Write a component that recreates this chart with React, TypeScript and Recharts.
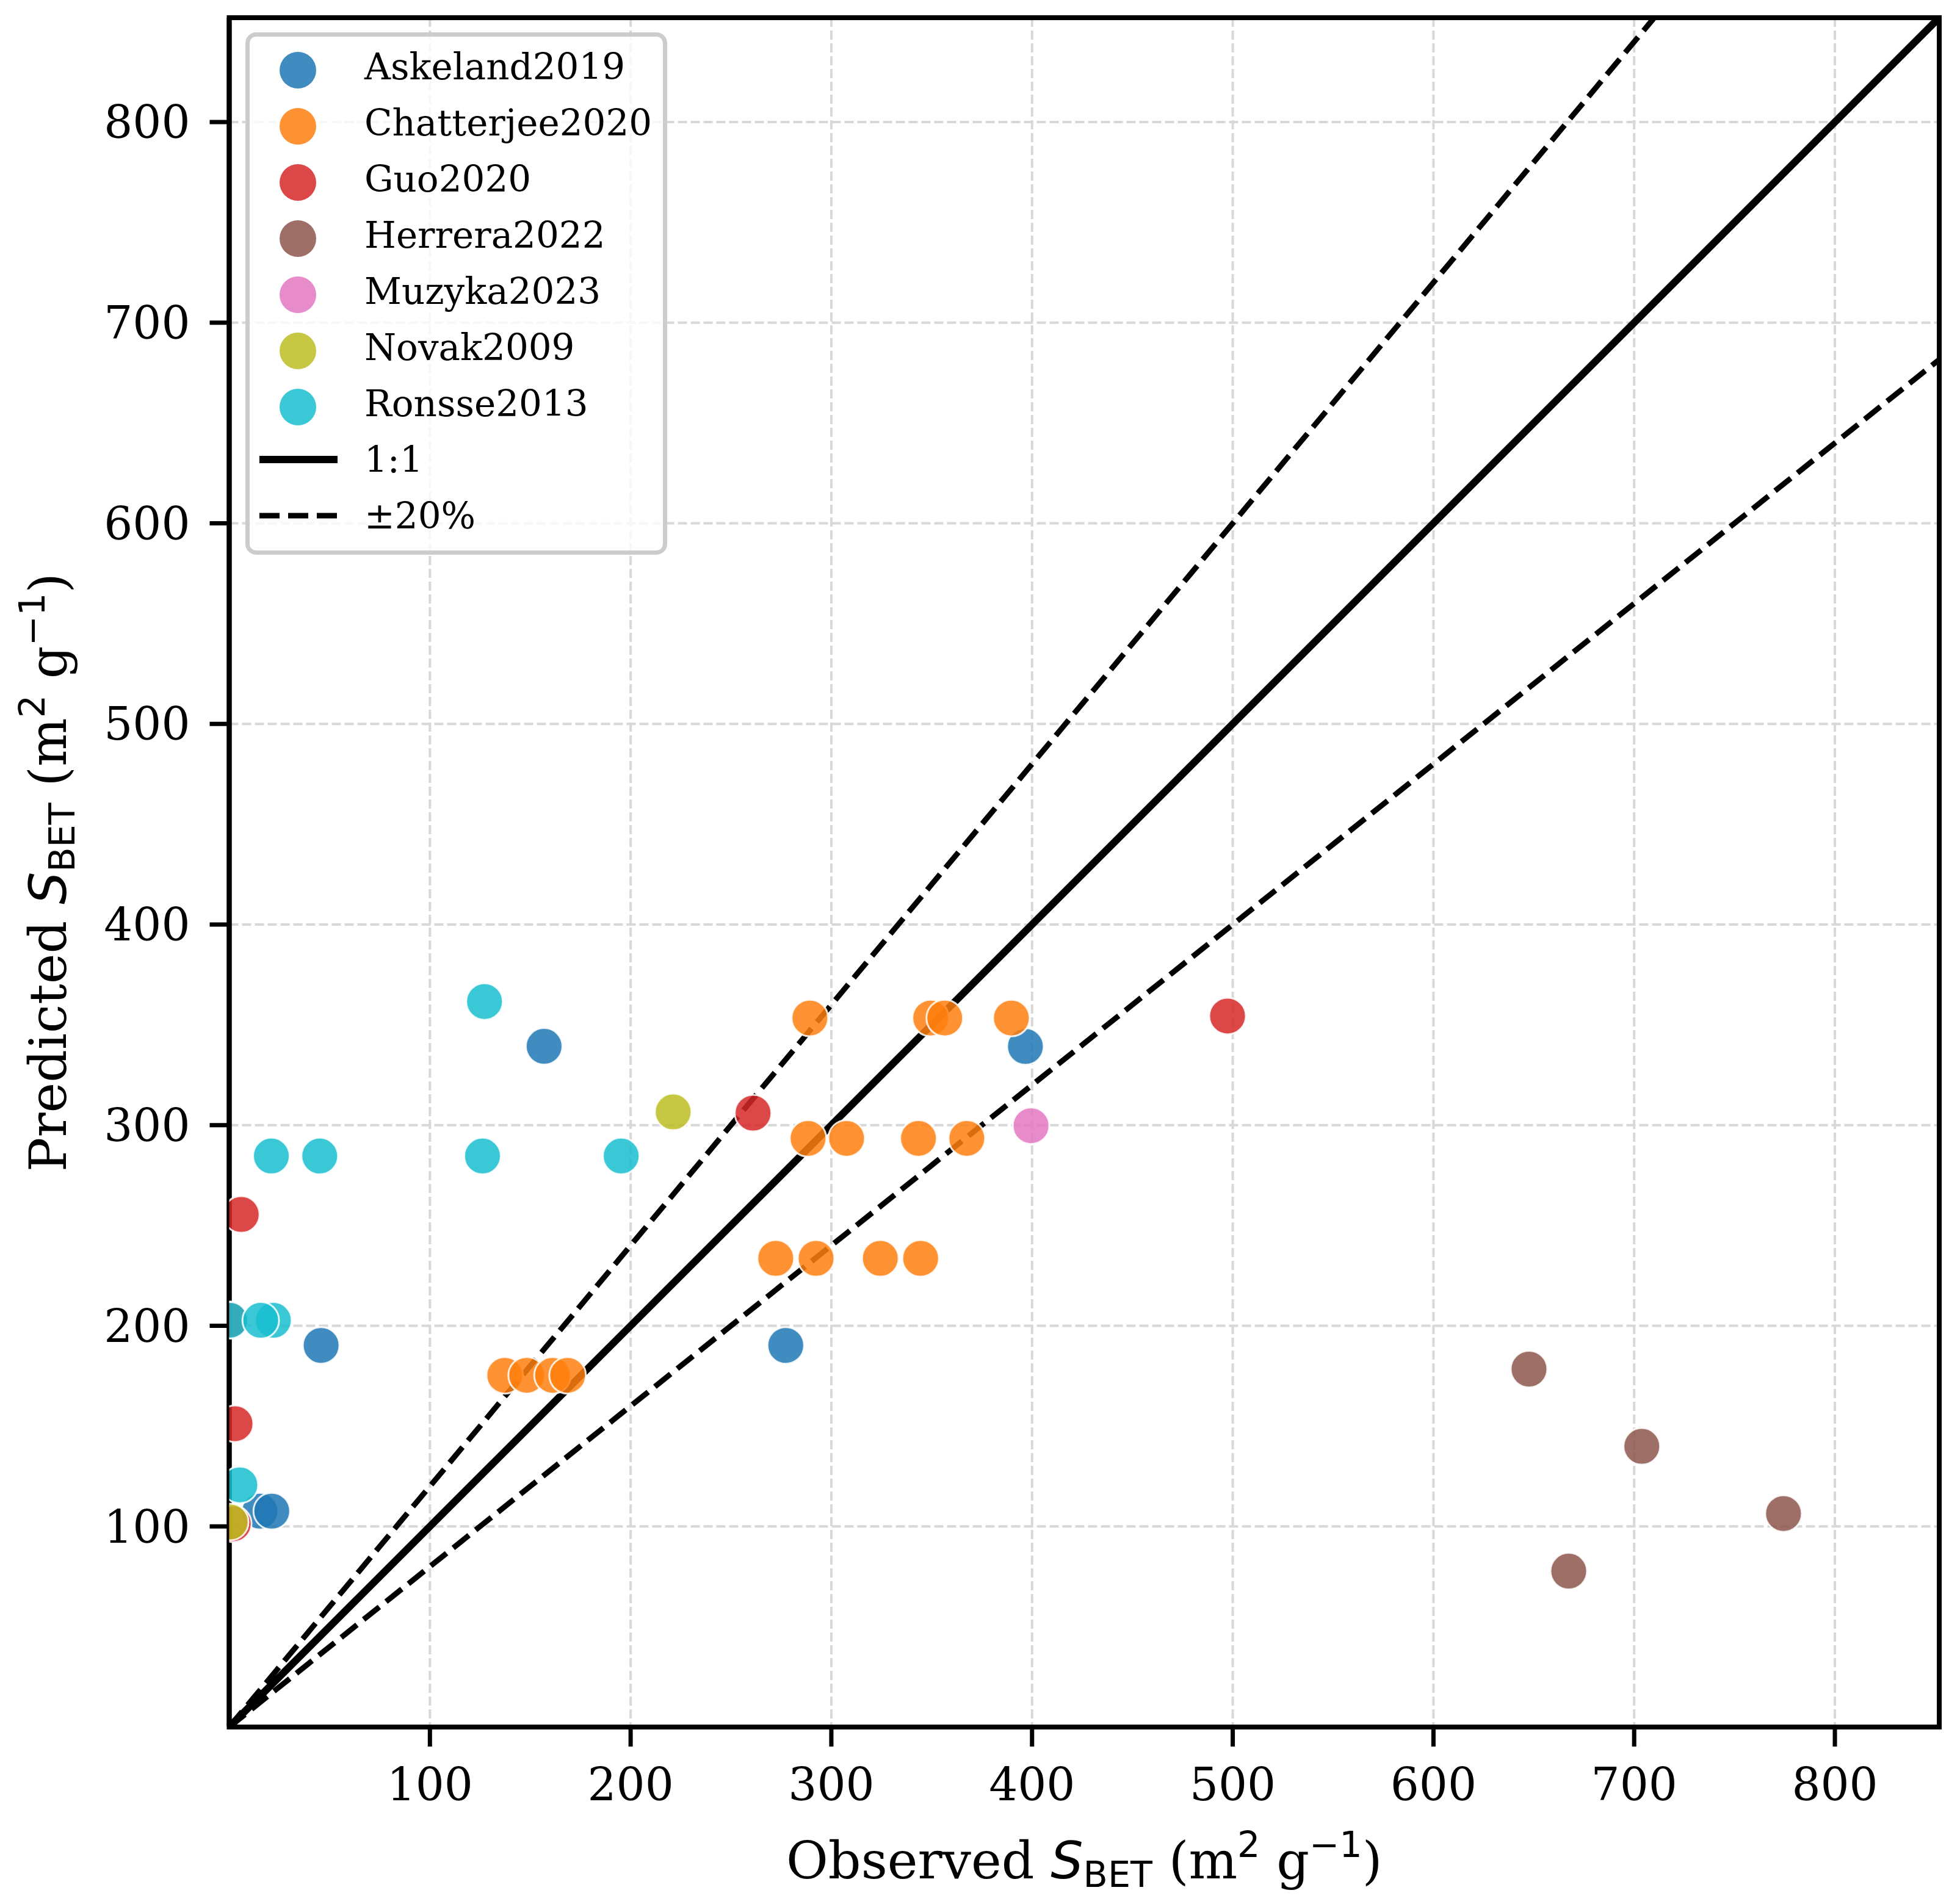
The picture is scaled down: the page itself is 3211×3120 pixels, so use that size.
import React from 'react';
import {
  ScatterChart,
  Scatter,
  XAxis,
  YAxis,
  CartesianGrid,
  ReferenceLine,
  ReferenceArea,
  Legend,
} from 'recharts';

// observed / predicted S_BET pairs
const askeland2019 = [[156.9, 339.3], [45.8, 190.2], [277.3, 190.2], [396.7, 339.2], [15.3, 107.6], [21.2, 107.6]];
const chatterjee2020 = [
  [289.3, 353.4], [349.5, 353.4], [356.5, 353.4], [389.7, 353.4],
  [288.4, 293.4], [307.6, 293.4], [343.4, 293.4], [367.5, 293.4],
  [272.3, 233.6], [292.4, 233.6], [324.4, 233.6], [344.5, 233.6],
  [137.3, 175.3], [148.2, 175.3], [161.1, 175.3], [168.6, 175.3],
];
const guo2020 = [[261, 306], [497.4, 354.4], [6, 255.5], [2.9, 151.2], [2, 101.3], [0.5, 203]];
const herrera2022 = [[647.6, 178.4], [703.8, 139.9], [774.4, 106.4], [667.4, 77.7]];
const muzyka2023 = [[399.5, 299.7]];
const novak2009 = [[221.2, 306.6], [0.5, 102.2]];
const ronsse2013 = [
  [127.2, 361.6], [21, 284.6], [45.1, 284.6], [126.2, 284.6], [195.3, 284.6],
  [0.3, 202.7], [22, 202.7], [15.7, 202.7], [5.3, 120.7],
];

const SERIES_NAMES = ['Askeland2019', 'Chatterjee2020', 'Guo2020', 'Herrera2022', 'Muzyka2023', 'Novak2009', 'Ronsse2013'];
const SERIES_DATA = [askeland2019, chatterjee2020, guo2020, herrera2022, muzyka2023, novak2009, ronsse2013];
const SERIES_COLORS = ['#1f77b4', '#ff7f0e', '#d62728', '#8c564b', '#e377c2', '#bcbd22', '#17becf'];

const TICKS = [100, 200, 300, 400, 500, 600, 700, 800];
const AXIS_MAX = 852;
const BAND = 0.2;

const SERIF = 'DejaVu Serif';
const SANS = 'DejaVu Sans';
const R = 30;

const toPoints = (pairs: number[][]) => pairs.map(([x, y]) => ({ x, y }));

const dot = (color: string) => (props: any) => (
  <circle
    cx={props.cx}
    cy={props.cy}
    r={R}
    fill={color}
    fillOpacity={0.85}
    stroke="#ffffff"
    strokeOpacity={0.85}
    strokeWidth={3}
  />
);

// S_BET (m^2 g^-1) in the matplotlib mathtext look
const unitSpans = (fs: number) => {
  const small = fs * 0.7;
  return [
    <tspan key="s" fontFamily={SANS} fontStyle="italic">S</tspan>,
    <tspan key="b" fontFamily={SANS} fontSize={small} dy={14}>BET</tspan>,
    <tspan key="p" dy={-14}> (m</tspan>,
    <tspan key="2" fontFamily={SANS} fontSize={small} dy={-35}>2</tspan>,
    <tspan key="g" dy={35}> g</tspan>,
    <tspan key="m" fontFamily={SANS} fontSize={small} dy={-35}>{'\u22121'}</tspan>,
    <tspan key="c" dy={35}>)</tspan>,
  ];
};

const XLabel = (props: any) => {
  const vb = props.viewBox;
  return (
    <text x={vb.x + vb.width / 2} y={vb.y + 248} textAnchor="middle" fontFamily={SERIF} fontSize={84} fill="#000">
      <tspan>Observed </tspan>
      {unitSpans(84)}
    </text>
  );
};

const YLabel = (props: any) => {
  const vb = props.viewBox;
  const cx = vb.x + 108;
  const cy = vb.y + vb.height / 2;
  return (
    <text x={cx} y={cy} transform={`rotate(-90, ${cx}, ${cy})`} textAnchor="middle" fontFamily={SERIF} fontSize={84} fill="#000">
      <tspan>Predicted </tspan>
      {unitSpans(84)}
    </text>
  );
};

const ROW0 = 62;
const ROW_STEP = 92;
const LEGEND_FS = 59.5;

const LegendBox = () => (
  <svg width={691} height={856} style={{ display: 'block' }}>
    <rect x={3.5} y={3.5} width={684} height={849} rx={14} fill="#ffffff" fillOpacity={0.8} stroke="#cccccc" strokeWidth={7} />
    {SERIES_NAMES.map((name, i) => {
      const cy = ROW0 + i * ROW_STEP;
      return (
        <g key={name}>
          <circle cx={86} cy={cy} r={R} fill={SERIES_COLORS[i]} fillOpacity={0.85} />
          <text x={195} y={cy + 15} fontFamily={SERIF} fontSize={LEGEND_FS} fill="#000">{name}</text>
        </g>
      );
    })}
    <line x1={23} x2={151} y1={ROW0 + 7 * ROW_STEP - 6} y2={ROW0 + 7 * ROW_STEP - 6} stroke="#000" strokeWidth={12} />
    <text x={195} y={ROW0 + 7 * ROW_STEP + 15} fontFamily={SERIF} fontSize={LEGEND_FS} fill="#000">1:1</text>
    <line x1={23} x2={151} y1={ROW0 + 8 * ROW_STEP - 6} y2={ROW0 + 8 * ROW_STEP - 6} stroke="#000" strokeWidth={9} strokeDasharray="33 14" />
    <text x={195} y={ROW0 + 8 * ROW_STEP + 15} fontFamily={SERIF} fontSize={LEGEND_FS} fill="#000">±20%</text>
  </svg>
);

const tickStyle = { fill: '#000', fontSize: 74, fontFamily: SERIF };

export default function App() {
  return (
    <div style={{ position: 'absolute', left: 0, top: 0, background: '#fff', fontFamily: SERIF }}>
      <ScatterChart width={3211} height={3120} margin={{ top: 29, right: 34, bottom: 0, left: 0 }}>
        <CartesianGrid stroke="#d8d8d8" strokeWidth={4} strokeDasharray="15 6" />
        <XAxis
          type="number"
          dataKey="x"
          domain={[0, AXIS_MAX]}
          ticks={TICKS}
          allowDataOverflow
          height={290}
          tickSize={32}
          tickMargin={35}
          tick={tickStyle}
          tickLine={{ stroke: '#000', strokeWidth: 7 }}
          axisLine={{ stroke: '#000', strokeWidth: 8 }}
          label={(p: any) => <XLabel {...p} />}
        />
        <YAxis
          type="number"
          dataKey="y"
          domain={[0, AXIS_MAX]}
          ticks={TICKS}
          allowDataOverflow
          width={375.5}
          tickSize={32}
          tickMargin={32}
          tick={tickStyle}
          tickLine={{ stroke: '#000', strokeWidth: 7 }}
          axisLine={{ stroke: '#000', strokeWidth: 8 }}
          label={(p: any) => <YLabel {...p} />}
        />
        {SERIES_NAMES.map((name, i) => (
          <Scatter
            key={name}
            name={name}
            data={toPoints(SERIES_DATA[i])}
            fill={SERIES_COLORS[i]}
            shape={dot(SERIES_COLORS[i])}
            isAnimationActive={false}
          />
        ))}
        <ReferenceLine
          segment={[{ x: 0, y: 0 }, { x: AXIS_MAX, y: AXIS_MAX }]}
          stroke="#000"
          strokeWidth={12}
        />
        <ReferenceLine
          segment={[{ x: 0, y: 0 }, { x: AXIS_MAX / (1 + BAND), y: AXIS_MAX }]}
          stroke="#000"
          strokeWidth={9}
          strokeDasharray="33 14"
        />
        <ReferenceLine
          segment={[{ x: 0, y: 0 }, { x: AXIS_MAX, y: AXIS_MAX * (1 - BAND) }]}
          stroke="#000"
          strokeWidth={9}
          strokeDasharray="33 14"
        />
        <ReferenceArea x1={0} x2={AXIS_MAX} y1={0} y2={AXIS_MAX} fill="none" stroke="#000" strokeWidth={8} />
        <Legend
          layout="horizontal"
          verticalAlign="middle"
          align="center"
          content={() => <LegendBox />}
          wrapperStyle={{ position: 'absolute', left: 402, top: 53, width: 691, height: 856 }}
        />
      </ScatterChart>
    </div>
  );
}
